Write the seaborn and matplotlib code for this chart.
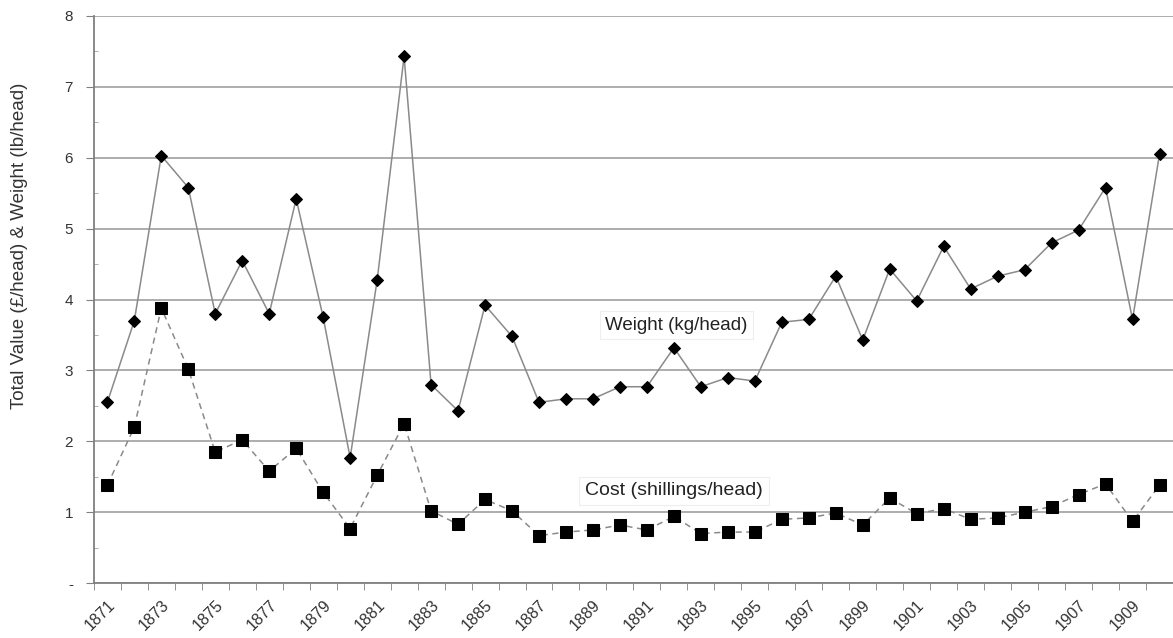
import numpy as np
import pandas as pd
import matplotlib
matplotlib.use("Agg")
import matplotlib.pyplot as plt
import seaborn as sns
from matplotlib.ticker import MultipleLocator, FixedLocator

# ================================
# Data
# ================================
years = list(range(1871, 1911))

weight = [2.55, 3.70, 6.03, 5.58, 3.80, 4.55, 3.80, 5.42, 3.75, 1.77,
          4.27, 7.43, 2.80, 2.43, 3.92, 3.48, 2.55, 2.60, 2.60, 2.77,
          2.77, 3.32, 2.77, 2.90, 2.85, 3.68, 3.72, 4.33, 3.43, 4.43,
          3.98, 4.75, 4.15, 4.33, 4.42, 4.80, 4.98, 5.58, 3.72, 6.05]

cost = [1.38, 2.20, 3.88, 3.02, 1.85, 2.02, 1.58, 1.90, 1.28, 0.77,
        1.52, 2.25, 1.02, 0.83, 1.18, 1.02, 0.67, 0.72, 0.75, 0.82,
        0.75, 0.94, 0.70, 0.72, 0.72, 0.90, 0.92, 0.99, 0.82, 1.20,
        0.98, 1.05, 0.90, 0.92, 1.00, 1.08, 1.25, 1.40, 0.87, 1.38]

y_ticks = [0, 1, 2, 3, 4, 5, 6, 7, 8]
y_labels = ["-", "1", "2", "3", "4", "5", "6", "7", "8"]

df = pd.DataFrame({"pos": np.arange(len(years)), "Year": years,
                   "Weight": weight, "Cost": cost})

# ================================
# Plot
# ================================
sns.set_style("white")
plt.rcParams["font.family"] = ["Liberation Sans", "DejaVu Sans"]

fig = plt.figure(figsize=(11.73, 6.38), dpi=100)
ax = fig.add_axes([0.080, 0.086, 0.920, 0.889])

sns.lineplot(data=df, x="pos", y="Weight", ax=ax, color="#8a8a8a", linewidth=1.1,
             marker="D", markersize=6.5, markerfacecolor="black",
             markeredgecolor="black")
sns.lineplot(data=df, x="pos", y="Cost", ax=ax, color="#8a8a8a", linewidth=1.1,
             linestyle=(0, (4, 3)), marker="s", markersize=8,
             markerfacecolor="black", markeredgecolor="black")

ax.set_xlim(-0.5, len(years) - 0.5)
ax.set_ylim(0, 8)

# y axis
ax.set_yticks(y_ticks)
ax.set_yticklabels(y_labels)
ax.yaxis.set_minor_locator(MultipleLocator(0.5))
ax.grid(axis="y", which="major", color="#a0a0a0", linewidth=1.2)
ax.tick_params(axis="y", which="major", length=6, color="#808080",
               labelsize=11, labelcolor="#333333", left=True, pad=9)
ax.tick_params(axis="y", which="minor", length=3, color="#a0a0a0",
               direction="in", left=True)
ax.set_ylabel("Total Value (£/head) & Weight (lb/head)", fontsize=13.5,
              color="#333333")
ax.yaxis.set_label_coords(-0.061, 0.594)

# x axis: labels every two years, tick marks between categories
ax.set_xticks(df["pos"][::2])
ax.set_xticklabels(df["Year"][::2], rotation=45, ha="right",
                   rotation_mode="anchor")
ax.xaxis.set_minor_locator(FixedLocator(np.arange(-0.5, len(years), 1)))
ax.tick_params(axis="x", which="major", length=0, labelsize=11.5,
               labelcolor="#333333", pad=10)
ax.tick_params(axis="x", which="minor", length=5, color="#808080",
               bottom=True)
ax.set_xlabel("")

for side in ["top", "right"]:
    ax.spines[side].set_visible(False)
for side in ["left", "bottom"]:
    ax.spines[side].set_color("#808080")
    ax.spines[side].set_linewidth(1.3)

box = dict(boxstyle="square,pad=0.3", facecolor="white", edgecolor="#eeeeee",
           linewidth=0.8)
ax.text(21.1, 3.64, "Weight (kg/head)", fontsize=13.5, color="#222222",
        ha="center", va="center", bbox=box)
ax.text(21.0, 1.30, "Cost (shillings/head)", fontsize=14, color="#222222",
        ha="center", va="center", bbox=box)

plt.savefig("out.png", dpi=100)
